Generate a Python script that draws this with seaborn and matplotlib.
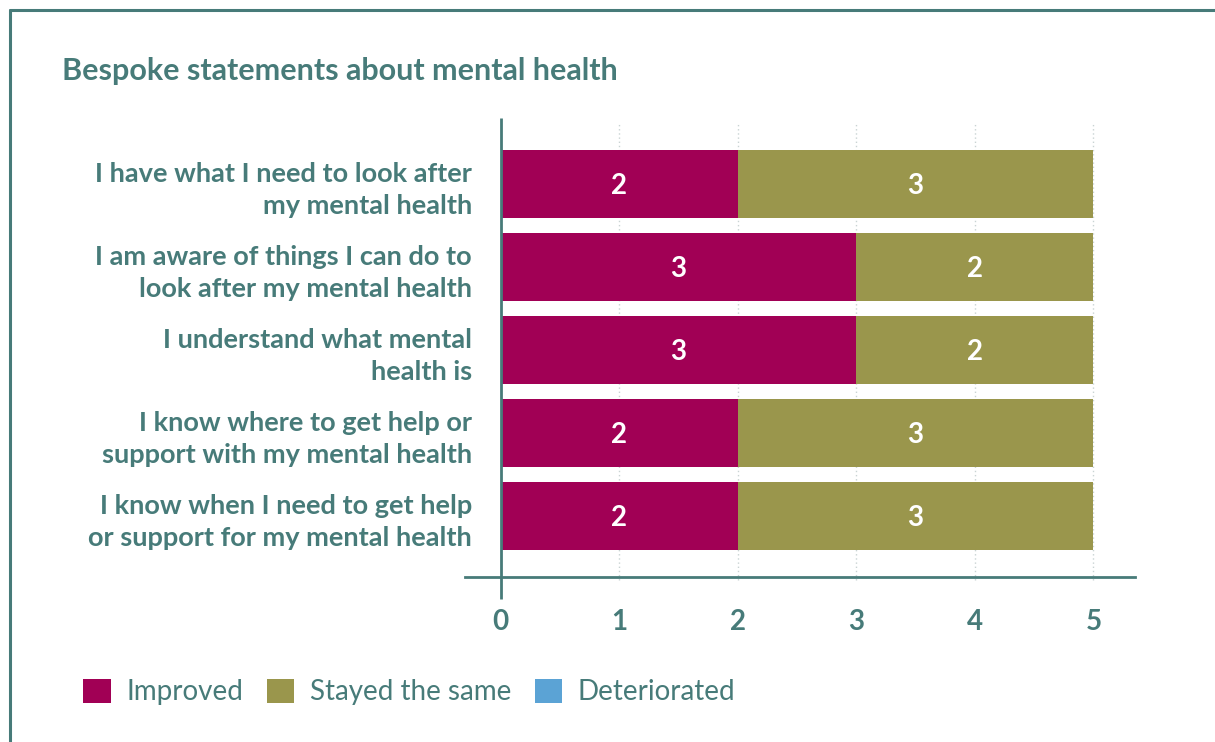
import matplotlib
matplotlib.use("Agg")
import matplotlib.pyplot as plt
from matplotlib.lines import Line2D
from matplotlib.patches import Patch
import numpy as np
import pandas as pd
import seaborn as sns

# Survey statements and response counts
statements = [
    "I have what I need to look after\nmy mental health",
    "I am aware of things I can do to\nlook after my mental health",
    "I understand what mental\nhealth is",
    "I know where to get help or\nsupport with my mental health",
    "I know when I need to get help\nor support for my mental health",
]
improved = [2, 3, 3, 2, 2]
stayed_same = [3, 2, 2, 3, 3]
deteriorated = [0, 0, 0, 0, 0]
series_names = ["Improved", "Stayed the same", "Deteriorated"]
x_ticks = [0, 1, 2, 3, 4, 5]
x_tick_labels = ["0", "1", "2", "3", "4", "5"]

TEAL = "#477b79"
COLORS = {"Improved": "#a10055", "Stayed the same": "#9a964c", "Deteriorated": "#5ba3d5"}

sns.set_theme(style="white")
plt.rcParams["font.family"] = ["Lato", "DejaVu Sans"]

df = pd.DataFrame({
    "statement": statements,
    "Improved": improved,
    "Stayed the same": stayed_same,
    "Deteriorated": deteriorated,
})
df["cum_imp"] = df["Improved"]
df["cum_same"] = df["cum_imp"] + df["Stayed the same"]
df["cum_det"] = df["cum_same"] + df["Deteriorated"]

W, H = 1215, 742
fig = plt.figure(figsize=(W / 100, H / 100), dpi=100)
ax = fig.add_axes([465 / W, 1 - 577 / H, (1135 - 465) / W, (577 - 118) / H])

# Stacked bars: draw cumulative totals from the largest down
for col, name in [("cum_det", "Deteriorated"), ("cum_same", "Stayed the same"), ("cum_imp", "Improved")]:
    sns.barplot(data=df, y="statement", x=col, color=COLORS[name], width=0.82,
                saturation=1, ax=ax, orient="h", zorder=2, linewidth=0)

# Segment value labels
for i, row in df.iterrows():
    left = 0
    for name in series_names:
        v = row[name]
        if v > 0:
            ax.text(left + v / 2, i + 0.03, f"{v}", color="white", ha="center", va="center",
                    fontsize=20, fontweight="bold", zorder=4)
        left += v

ax.set_xlim(-0.3, 5.35)
ax.set_ylim(4.735, -0.795)
ax.set_xlabel("")
ax.set_ylabel("")

ax.set_xticks(x_ticks)
ax.set_xticklabels(x_tick_labels)
ax.tick_params(axis="x", length=0, pad=23, labelsize=20, labelcolor=TEAL)
ax.tick_params(axis="y", length=0, pad=-5, labelsize=19.5, labelcolor=TEAL)
for lbl in ax.get_yticklabels():
    lbl.set_fontweight("bold")
    lbl.set_linespacing(1.38)
for lbl in ax.get_xticklabels():
    lbl.set_fontweight("bold")

for s in ["top", "right", "left"]:
    ax.spines[s].set_visible(False)
ax.spines["bottom"].set_color(TEAL)
ax.spines["bottom"].set_linewidth(2)

# Dotted vertical gridlines
for xv in x_ticks[1:]:
    ax.plot([xv, xv], [4.77, -0.75], color="#c9d3d3", lw=1, ls=(0, (1, 2)),
            zorder=1, clip_on=False)

# Zero line crossing the axis
ax.plot([0, 0], [5.0, -0.795], color=TEAL, lw=2, zorder=5, clip_on=False,
        solid_capstyle="butt")

# Title
fig.text(62 / W, 1 - 80 / H, "Bespoke statements about mental health", color=TEAL,
         fontsize=22, fontweight="bold", ha="left", va="baseline")

# Legend
handles = [Patch(facecolor=COLORS[n], edgecolor="none", label=n) for n in series_names]
fig.legend(handles=handles, loc="center left", bbox_to_anchor=(72 / W, 1 - 692 / H),
           ncol=3, frameon=False, fontsize=20, labelcolor=TEAL, handlelength=1.0,
           handleheight=1.0, handletextpad=0.55, columnspacing=0.85, borderaxespad=0)

# Outer frame (left and top edges)
fig.add_artist(Line2D([10 / W, 10 / W], [0, 1 - 10 / H], color=TEAL, lw=2.2,
                      transform=fig.transFigure))
fig.add_artist(Line2D([10 / W, 1], [1 - 10 / H, 1 - 10 / H], color=TEAL, lw=2.2,
                      transform=fig.transFigure))

fig.savefig("out.png", dpi=100)
